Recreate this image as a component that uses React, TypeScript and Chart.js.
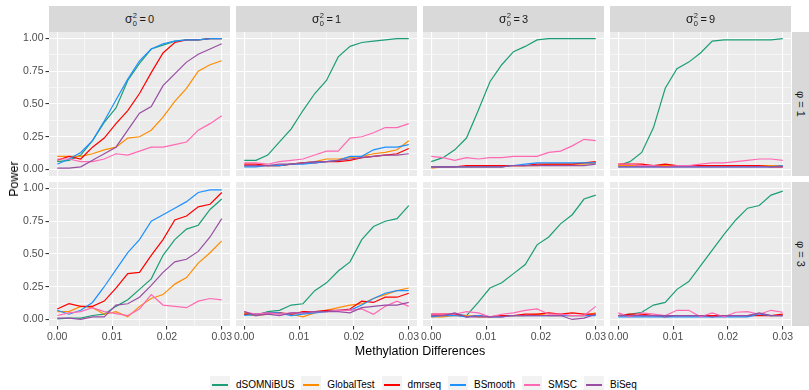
import React, { useEffect, useRef } from "react";
import { Chart, registerables } from "chart.js";
Chart.register(...registerables);

// ---------------- data ----------------
const xValues = [0, 0.00214, 0.00429, 0.00643, 0.00857, 0.01071, 0.01286, 0.015, 0.01714, 0.01929, 0.02143, 0.02357, 0.02571, 0.02786, 0.03];
const methods = ["dSOMNiBUS", "GlobalTest", "dmrseq", "BSmooth", "SMSC", "BiSeq"];
const methodColors = ["#1B9E77", "#FF8C00", "#FF0000", "#1E90FF", "#FF69B4", "#984EA3"];
const sigmaLevels = ["0", "1", "3", "9"];
const phiLevels = ["1", "3"];
const yTickValues = [0, 0.25, 0.5, 0.75, 1];
const yTickLabels = ["0.00", "0.25", "0.50", "0.75", "1.00"];
const yMinorValues = [0.125, 0.375, 0.625, 0.875];
const xTickValues = [0, 0.01, 0.02, 0.03];
const xTickLabels = ["0.00", "0.01", "0.02", "0.03"];
const xMinorValues = [0.005, 0.015, 0.025];
const xAxisTitle = "Methylation Differences";
const yAxisTitle = "Power";

// phi = 1, sigma0^2 = 0
const phi1_s0_dSOMNiBUS = [0.06, 0.07, 0.11, 0.22, 0.36, 0.47, 0.68, 0.81, 0.92, 0.95, 0.98, 0.99, 0.99, 1.0, 1.0];
const phi1_s0_GlobalTest = [0.10, 0.10, 0.10, 0.12, 0.15, 0.17, 0.24, 0.25, 0.30, 0.40, 0.52, 0.62, 0.75, 0.80, 0.83];
const phi1_s0_dmrseq = [0.07, 0.10, 0.08, 0.17, 0.24, 0.35, 0.45, 0.58, 0.74, 0.89, 0.97, 0.99, 0.99, 1.0, 1.0];
const phi1_s0_BSmooth = [0.04, 0.08, 0.13, 0.22, 0.37, 0.53, 0.69, 0.83, 0.92, 0.96, 0.98, 0.99, 0.99, 1.0, 1.0];
const phi1_s0_SMSC = [0.08, 0.08, 0.06, 0.06, 0.08, 0.12, 0.11, 0.14, 0.17, 0.17, 0.19, 0.21, 0.30, 0.35, 0.41];
const phi1_s0_BiSeq = [0.01, 0.01, 0.02, 0.07, 0.12, 0.17, 0.30, 0.43, 0.48, 0.64, 0.73, 0.82, 0.88, 0.92, 0.96];

// phi = 1, sigma0^2 = 1
const phi1_s1_dSOMNiBUS = [0.07, 0.07, 0.11, 0.21, 0.31, 0.45, 0.58, 0.68, 0.86, 0.94, 0.97, 0.98, 0.99, 1.0, 1.0];
const phi1_s1_GlobalTest = [0.03, 0.03, 0.03, 0.03, 0.04, 0.05, 0.06, 0.08, 0.08, 0.09, 0.10, 0.12, 0.13, 0.15, 0.22];
const phi1_s1_dmrseq = [0.04, 0.04, 0.03, 0.03, 0.04, 0.05, 0.05, 0.06, 0.06, 0.07, 0.09, 0.10, 0.11, 0.12, 0.16];
const phi1_s1_BSmooth = [0.02, 0.02, 0.03, 0.03, 0.04, 0.04, 0.05, 0.06, 0.07, 0.10, 0.10, 0.15, 0.17, 0.17, 0.19];
const phi1_s1_SMSC = [0.05, 0.05, 0.04, 0.06, 0.07, 0.08, 0.11, 0.14, 0.14, 0.24, 0.25, 0.28, 0.32, 0.32, 0.35];
const phi1_s1_BiSeq = [0.03, 0.03, 0.03, 0.04, 0.04, 0.05, 0.06, 0.06, 0.07, 0.08, 0.09, 0.10, 0.11, 0.11, 0.12];

// phi = 1, sigma0^2 = 3
const phi1_s3_dSOMNiBUS = [0.06, 0.09, 0.15, 0.24, 0.45, 0.67, 0.80, 0.90, 0.94, 0.99, 1.0, 1.0, 1.0, 1.0, 1.0];
const phi1_s3_GlobalTest = [0.01, 0.02, 0.02, 0.02, 0.02, 0.02, 0.02, 0.03, 0.03, 0.03, 0.04, 0.04, 0.04, 0.04, 0.05];
const phi1_s3_dmrseq = [0.02, 0.02, 0.02, 0.03, 0.03, 0.03, 0.03, 0.03, 0.03, 0.04, 0.04, 0.04, 0.04, 0.05, 0.06];
const phi1_s3_BSmooth = [0.02, 0.02, 0.02, 0.02, 0.02, 0.02, 0.02, 0.03, 0.04, 0.05, 0.05, 0.05, 0.05, 0.05, 0.05];
const phi1_s3_SMSC = [0.10, 0.09, 0.07, 0.09, 0.08, 0.09, 0.09, 0.10, 0.10, 0.10, 0.13, 0.14, 0.18, 0.23, 0.22];
const phi1_s3_BiSeq = [0.02, 0.02, 0.02, 0.02, 0.02, 0.02, 0.02, 0.03, 0.03, 0.03, 0.03, 0.03, 0.03, 0.03, 0.04];

// phi = 1, sigma0^2 = 9
const phi1_s9_dSOMNiBUS = [0.03, 0.06, 0.13, 0.32, 0.62, 0.77, 0.82, 0.89, 0.98, 0.99, 0.99, 0.99, 0.99, 0.99, 1.0];
const phi1_s9_GlobalTest = [0.03, 0.03, 0.03, 0.03, 0.03, 0.03, 0.03, 0.03, 0.03, 0.03, 0.03, 0.03, 0.03, 0.03, 0.03];
const phi1_s9_dmrseq = [0.04, 0.04, 0.04, 0.03, 0.04, 0.03, 0.03, 0.03, 0.03, 0.03, 0.03, 0.03, 0.03, 0.02, 0.02];
const phi1_s9_BSmooth = [0.02, 0.02, 0.02, 0.02, 0.02, 0.02, 0.02, 0.02, 0.02, 0.02, 0.02, 0.02, 0.02, 0.02, 0.03];
const phi1_s9_SMSC = [0.04, 0.04, 0.03, 0.03, 0.02, 0.03, 0.03, 0.04, 0.05, 0.05, 0.06, 0.07, 0.08, 0.08, 0.07];
const phi1_s9_BiSeq = [0.02, 0.02, 0.02, 0.02, 0.02, 0.02, 0.02, 0.02, 0.02, 0.02, 0.02, 0.02, 0.02, 0.02, 0.02];

// phi = 3, sigma0^2 = 0
const phi3_s0_dSOMNiBUS = [0.005, 0.01, 0.01, 0.03, 0.04, 0.10, 0.15, 0.23, 0.31, 0.49, 0.61, 0.69, 0.72, 0.84, 0.92];
const phi3_s0_GlobalTest = [0.06, 0.06, 0.10, 0.09, 0.04, 0.06, 0.02, 0.10, 0.16, 0.19, 0.27, 0.32, 0.43, 0.51, 0.60];
const phi3_s0_dmrseq = [0.08, 0.12, 0.10, 0.10, 0.14, 0.24, 0.35, 0.36, 0.49, 0.61, 0.76, 0.79, 0.86, 0.88, 0.97];
const phi3_s0_BSmooth = [0.07, 0.04, 0.07, 0.13, 0.25, 0.38, 0.51, 0.61, 0.75, 0.80, 0.85, 0.90, 0.97, 0.99, 0.99];
const phi3_s0_SMSC = [0.03, 0.05, 0.06, 0.09, 0.06, 0.045, 0.03, 0.08, 0.19, 0.11, 0.10, 0.09, 0.14, 0.16, 0.15];
const phi3_s0_BiSeq = [0.01, 0.01, 0.00, 0.02, 0.02, 0.11, 0.12, 0.17, 0.26, 0.36, 0.44, 0.46, 0.52, 0.63, 0.77];

// phi = 3, sigma0^2 = 1
const phi3_s1_dSOMNiBUS = [0.04, 0.03, 0.06, 0.07, 0.11, 0.12, 0.22, 0.28, 0.37, 0.44, 0.61, 0.71, 0.75, 0.77, 0.87];
const phi3_s1_GlobalTest = [0.05, 0.03, 0.04, 0.05, 0.04, 0.02, 0.05, 0.07, 0.09, 0.11, 0.12, 0.16, 0.19, 0.22, 0.24];
const phi3_s1_dmrseq = [0.04, 0.04, 0.05, 0.05, 0.04, 0.06, 0.06, 0.07, 0.07, 0.08, 0.14, 0.13, 0.17, 0.17, 0.20];
const phi3_s1_BSmooth = [0.03, 0.04, 0.05, 0.05, 0.03, 0.04, 0.05, 0.06, 0.07, 0.07, 0.11, 0.16, 0.20, 0.22, 0.22];
const phi3_s1_SMSC = [0.06, 0.04, 0.05, 0.04, 0.05, 0.05, 0.06, 0.06, 0.07, 0.07, 0.08, 0.04, 0.10, 0.14, 0.10];
const phi3_s1_BiSeq = [0.06, 0.03, 0.04, 0.03, 0.05, 0.05, 0.06, 0.06, 0.06, 0.05, 0.09, 0.10, 0.11, 0.11, 0.13];

// phi = 3, sigma0^2 = 3
const phi3_s3_dSOMNiBUS = [0.03, 0.03, 0.04, 0.03, 0.13, 0.24, 0.28, 0.35, 0.42, 0.57, 0.63, 0.73, 0.80, 0.92, 0.95];
const phi3_s3_GlobalTest = [0.02, 0.02, 0.03, 0.03, 0.02, 0.02, 0.03, 0.03, 0.03, 0.04, 0.03, 0.03, 0.03, 0.03, 0.05];
const phi3_s3_dmrseq = [0.04, 0.04, 0.04, 0.02, 0.03, 0.02, 0.03, 0.03, 0.04, 0.04, 0.05, 0.04, 0.05, 0.04, 0.04];
const phi3_s3_BSmooth = [0.02, 0.03, 0.03, 0.02, 0.03, 0.02, 0.02, 0.03, 0.03, 0.03, 0.03, 0.03, 0.03, 0.03, 0.03];
const phi3_s3_SMSC = [0.04, 0.04, 0.04, 0.06, 0.05, 0.02, 0.04, 0.05, 0.07, 0.08, 0.04, 0.04, 0.03, 0.03, 0.10];
const phi3_s3_BiSeq = [0.03, 0.03, 0.05, 0.02, 0.02, 0.02, 0.02, 0.03, 0.03, 0.03, 0.03, 0.03, 0.00, 0.01, 0.04];

// phi = 3, sigma0^2 = 9
const phi3_s9_dSOMNiBUS = [0.03, 0.04, 0.055, 0.11, 0.13, 0.23, 0.29, 0.41, 0.53, 0.65, 0.76, 0.85, 0.87, 0.95, 0.98];
const phi3_s9_GlobalTest = [0.03, 0.03, 0.03, 0.03, 0.03, 0.03, 0.03, 0.03, 0.03, 0.03, 0.03, 0.03, 0.04, 0.03, 0.03];
const phi3_s9_dmrseq = [0.03, 0.04, 0.04, 0.03, 0.02, 0.03, 0.03, 0.03, 0.03, 0.03, 0.03, 0.03, 0.03, 0.03, 0.04];
const phi3_s9_BSmooth = [0.02, 0.02, 0.02, 0.02, 0.02, 0.02, 0.02, 0.02, 0.02, 0.02, 0.02, 0.02, 0.04, 0.03, 0.03];
const phi3_s9_SMSC = [0.05, 0.02, 0.05, 0.04, 0.03, 0.07, 0.07, 0.02, 0.05, 0.02, 0.055, 0.06, 0.04, 0.07, 0.055];
const phi3_s9_BiSeq = [0.03, 0.03, 0.03, 0.03, 0.03, 0.03, 0.03, 0.03, 0.02, 0.03, 0.03, 0.03, 0.05, 0.03, 0.03];

const panelSeries = [
  [
    [phi1_s0_dSOMNiBUS, phi1_s0_GlobalTest, phi1_s0_dmrseq, phi1_s0_BSmooth, phi1_s0_SMSC, phi1_s0_BiSeq],
    [phi1_s1_dSOMNiBUS, phi1_s1_GlobalTest, phi1_s1_dmrseq, phi1_s1_BSmooth, phi1_s1_SMSC, phi1_s1_BiSeq],
    [phi1_s3_dSOMNiBUS, phi1_s3_GlobalTest, phi1_s3_dmrseq, phi1_s3_BSmooth, phi1_s3_SMSC, phi1_s3_BiSeq],
    [phi1_s9_dSOMNiBUS, phi1_s9_GlobalTest, phi1_s9_dmrseq, phi1_s9_BSmooth, phi1_s9_SMSC, phi1_s9_BiSeq],
  ],
  [
    [phi3_s0_dSOMNiBUS, phi3_s0_GlobalTest, phi3_s0_dmrseq, phi3_s0_BSmooth, phi3_s0_SMSC, phi3_s0_BiSeq],
    [phi3_s1_dSOMNiBUS, phi3_s1_GlobalTest, phi3_s1_dmrseq, phi3_s1_BSmooth, phi3_s1_SMSC, phi3_s1_BiSeq],
    [phi3_s3_dSOMNiBUS, phi3_s3_GlobalTest, phi3_s3_dmrseq, phi3_s3_BSmooth, phi3_s3_SMSC, phi3_s3_BiSeq],
    [phi3_s9_dSOMNiBUS, phi3_s9_GlobalTest, phi3_s9_dmrseq, phi3_s9_BSmooth, phi3_s9_SMSC, phi3_s9_BiSeq],
  ],
];

// ---------------- layout ----------------
const FONT = '"Liberation Sans", Arial, Helvetica, sans-serif';
const PANEL_LEFT = [49, 236, 423, 610];
const PANEL_W = 181;
const PANEL_TOP = [32, 182];
const PANEL_H = 144;
const AXIS_W = 49;
const AXIS_H = 20;
const PAD = 14;
const PADV = 12;

const near = (arr: number[], v: number) => arr.findIndex((t) => Math.abs(t - v) < 1e-9);

const panelBg = {
  id: "panelBg",
  beforeDraw(chart: any) {
    const a = chart.chartArea;
    const ctx = chart.ctx;
    ctx.save();
    ctx.fillStyle = "#EBEBEB";
    ctx.fillRect(a.left, a.top, a.right - a.left, a.bottom - a.top);
    ctx.restore();
  },
};

function Panel({ r, c }: { r: number; c: number }) {
  const ref = useRef<HTMLCanvasElement | null>(null);
  const left = PANEL_LEFT[c] - AXIS_W;
  const width = AXIS_W + PANEL_W + PAD;
  const top = PANEL_TOP[r] - PADV;
  const height = PADV + PANEL_H + AXIS_H + PADV;

  useEffect(() => {
    if (!ref.current) return;
    const series = panelSeries[r][c];
    const showX = r === 1;
    const showY = c === 0;
    const datasets = methods.map((m, i) => ({
      label: m,
      data: xValues.map((x, j) => ({ x, y: series[i][j] })),
      borderColor: methodColors[i],
      backgroundColor: methodColors[i],
      borderWidth: 1.2,
      pointRadius: 0,
      tension: 0,
      fill: false,
      order: methods.length - 1 - i,
    }));
    const xAll = [...xTickValues, ...xMinorValues].sort((a, b) => a - b);
    const yAll = [...yTickValues, ...yMinorValues].sort((a, b) => a - b);
    const majorX = (ctx: any) => !!ctx.tick && near(xTickValues, ctx.tick.value) >= 0;
    const majorY = (ctx: any) => !!ctx.tick && near(yTickValues, ctx.tick.value) >= 0;
    const chart = new Chart(ref.current, {
      type: "line",
      data: { datasets },
      plugins: [panelBg],
      options: {
        animation: false,
        responsive: false,
        maintainAspectRatio: false,
        events: [],
        layout: { padding: { left: 0, right: PAD, top: PADV, bottom: PADV } },
        plugins: { legend: { display: false }, tooltip: { enabled: false }, title: { display: false } },
        scales: {
          x: {
            type: "linear",
            min: -0.0015,
            max: 0.0315,
            bounds: "data",
            afterBuildTicks: (s: any) => {
              s.ticks = xAll.map((v) => ({ value: v }));
            },
            afterFit: (s: any) => {
              s.height = AXIS_H;
            },
            ticks: {
              display: true,
              autoSkip: false,
              maxRotation: 0,
              minRotation: 0,
              padding: 1,
              color: showX ? "#4D4D4D" : "rgba(0,0,0,0)",
              font: { family: FONT, size: 10.5 },
              callback: (v: any) => {
                const i = near(xTickValues, Number(v));
                return i >= 0 ? xTickLabels[i] : "";
              },
            },
            grid: {
              color: "#FFFFFF",
              lineWidth: (ctx: any) => (majorX(ctx) ? 1.1 : 0.55),
              drawTicks: true,
              tickLength: 3.5,
              tickWidth: 1.1,
              tickColor: (ctx: any) => (showX && majorX(ctx) ? "#333333" : "rgba(0,0,0,0)"),
            },
            border: { display: false },
          },
          y: {
            type: "linear",
            min: -0.05,
            max: 1.05,
            bounds: "data",
            afterBuildTicks: (s: any) => {
              s.ticks = yAll.map((v) => ({ value: v }));
            },
            afterFit: (s: any) => {
              s.width = AXIS_W;
            },
            ticks: {
              display: true,
              autoSkip: false,
              padding: 2,
              color: showY ? "#4D4D4D" : "rgba(0,0,0,0)",
              font: { family: FONT, size: 10.5 },
              callback: (v: any) => {
                const i = near(yTickValues, Number(v));
                return i >= 0 ? yTickLabels[i] : "";
              },
            },
            grid: {
              color: "#FFFFFF",
              lineWidth: (ctx: any) => (majorY(ctx) ? 1.1 : 0.55),
              drawTicks: true,
              tickLength: 3.5,
              tickWidth: 1.1,
              tickColor: (ctx: any) => (showY && majorY(ctx) ? "#333333" : "rgba(0,0,0,0)"),
            },
            border: { display: false },
          },
        },
      } as any,
    });
    return () => chart.destroy();
  }, [r, c]);

  return (
    <canvas
      ref={ref}
      width={width}
      height={height}
      style={{ position: "absolute", left, top, width, height }}
    />
  );
}

function TopStrip({ c }: { c: number }) {
  return (
    <div
      style={{
        position: "absolute",
        left: PANEL_LEFT[c],
        top: 6,
        width: PANEL_W,
        height: 26,
        background: "#D9D9D9",
        display: "flex",
        alignItems: "center",
        justifyContent: "center",
        color: "#1A1A1A",
        fontSize: 11,
        fontFamily: FONT,
      }}
    >
      <span style={{ fontSize: 12 }}>σ</span>
      <span
        style={{
          display: "inline-flex",
          flexDirection: "column",
          fontSize: 7.5,
          lineHeight: "7.5px",
          marginLeft: 0.5,
          marginTop: 1,
        }}
      >
        <span>2</span>
        <span>0</span>
      </span>
      <span style={{ marginLeft: 2.5 }}>=</span>
      <span style={{ marginLeft: 2 }}>{sigmaLevels[c]}</span>
    </div>
  );
}

function RightStrip({ r }: { r: number }) {
  return (
    <div
      style={{
        position: "absolute",
        left: 792,
        top: PANEL_TOP[r],
        width: 17,
        height: PANEL_H,
        background: "#D9D9D9",
        display: "flex",
        alignItems: "center",
        justifyContent: "center",
        color: "#1A1A1A",
        fontSize: 11,
        fontFamily: FONT,
      }}
    >
      <span style={{ writingMode: "vertical-rl", whiteSpace: "nowrap" }}>φ = {phiLevels[r]}</span>
    </div>
  );
}

function Legend() {
  return (
    <div
      style={{
        position: "absolute",
        left: 210,
        top: 376,
        height: 17,
        display: "flex",
        alignItems: "center",
        fontFamily: FONT,
        fontSize: 10,
        color: "#000",
      }}
    >
      {methods.map((m, i) => (
        <div key={m} style={{ display: "flex", alignItems: "center", marginRight: 7 }}>
          <div style={{ position: "relative", width: 20, height: 17, background: "#F2F2F2" }}>
            <div
              style={{
                position: "absolute",
                left: 2,
                top: 8,
                width: 16,
                height: 1.6,
                background: methodColors[i],
              }}
            />
          </div>
          <span style={{ marginLeft: 6, whiteSpace: "nowrap" }}>{m}</span>
        </div>
      ))}
    </div>
  );
}

export default function App() {
  return (
    <div
      style={{
        position: "fixed",
        left: 0,
        top: 0,
        width: 809,
        height: 390,
        background: "#FFFFFF",
        overflow: "hidden",
        fontFamily: FONT,
      }}
    >
      {[1, 0].map((r) => [3, 2, 1, 0].map((c) => <Panel key={`${r}-${c}`} r={r} c={c} />))}
      {[0, 1, 2, 3].map((c) => (
        <TopStrip key={`s${c}`} c={c} />
      ))}
      {[0, 1].map((r) => (
        <RightStrip key={`p${r}`} r={r} />
      ))}
      <div
        style={{
          position: "absolute",
          left: 14,
          top: 179,
          transform: "translate(-50%, -50%) rotate(-90deg)",
          fontSize: 12.5,
          whiteSpace: "nowrap",
          color: "#000",
        }}
      >
        {yAxisTitle}
      </div>
      <div
        style={{
          position: "absolute",
          left: 420,
          top: 351,
          transform: "translate(-50%, -50%)",
          fontSize: 12.5,
          whiteSpace: "nowrap",
          color: "#000",
        }}
      >
        {xAxisTitle}
      </div>
      <Legend />
    </div>
  );
}
